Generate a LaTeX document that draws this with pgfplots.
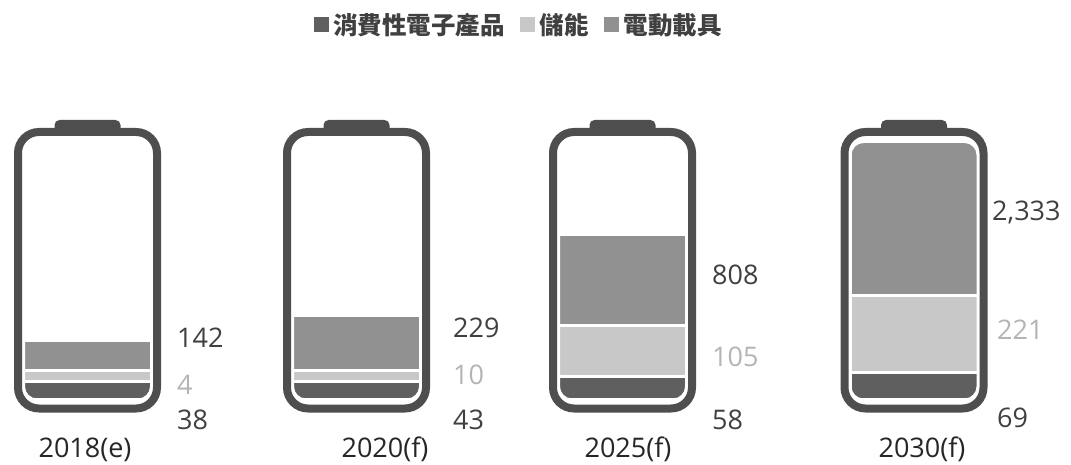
\documentclass[border=0pt]{standalone}
\usepackage{fontspec}
\setmainfont{Open Sans}
\newfontfamily\cjk{Noto Sans CJK TC}
\usepackage{pgfplots}
\pgfplotsset{compat=1.18}

\definecolor{cdark}{RGB}{95,95,95}
\definecolor{clight}{RGB}{200,200,200}
\definecolor{cmed}{RGB}{145,145,145}
\definecolor{cshell}{RGB}{78,78,78}
\definecolor{ctext}{RGB}{64,64,64}
\definecolor{cltext}{RGB}{180,180,180}

\pgfplotsset{
  % square swatch, with blank room before it (between entries) and after it (before the text)
  sqlegend/.style={legend image code/.code={%
    \path (-12pt,0pt) (16pt,0pt);
    \fill[##1, draw=none] (0pt,-7.5pt) rectangle (15pt,7.5pt);}},
  frame/.style={scale only axis, width=1071pt, height=464pt,
    xmin=0, xmax=1071, ymin=-65, ymax=399, hide axis, clip=false},
}

% battery shell (1 axis unit = 1pt): mask left/right, inner left/right, shell left/right, cap left/right
\newcommand{\battery}[8]{%
  \fill[white, even odd rule, rounded corners=12pt]
    (axis cs:#1,262) rectangle (axis cs:#2,-7)
    (axis cs:#3,256) rectangle (axis cs:#4,0.5);
  \draw[cshell, line width=8pt, rounded corners=21pt]
    (axis cs:#5,-9.5) rectangle (axis cs:#6,267);
  \fill[cshell, rounded corners=5pt] (axis cs:#7,265) rectangle (axis cs:#8,279);
}

\begin{document}
\begin{tikzpicture}[font=\fontsize{27}{32}\selectfont]
\begin{axis}[
    frame,
    ybar stacked,
    bar width=128,
    sqlegend,
    legend columns=3,
    legend style={at={(axis cs:512,374)}, anchor=center, draw=none,
        text=ctext, font=\cjk\bfseries\fontsize{24.5}{28}\selectfont},
  ]
  % bar heights as drawn in the picture (the figure is not to scale)
  \addplot[fill=cdark, draw=white, line width=3pt]
    coordinates {(87.5,17.5) (356.5,17.5) (622.5,22) (914,26.5)};
  \addplot[fill=clight, draw=white, line width=3pt]
    coordinates {(87.5,10.5) (356.5,10.5) (622.5,51) (914,77)};
  \addplot[fill=cmed, draw=white, line width=3pt]
    coordinates {(87.5,30.5) (356.5,55.5) (622.5,91.5) (914,154)};
  \legend{消費性電子產品, 儲能, 電動載具}
\end{axis}

% shells and labels on top of the bars
\begin{axis}[frame]
  \battery{19.5}{155.5}{25}{150}{18}{157}{54.5}{120.5}
  \battery{288.5}{424.5}{294}{419}{287}{426}{323.5}{389.5}
  \battery{554.5}{690.5}{560}{685}{553}{692}{589.5}{655.5}
  \battery{846}{982}{851.5}{976.5}{844.5}{983.5}{881}{947}

  % values
  \node[anchor=west, inner sep=0pt, text=ctext] at (axis cs:177,61) {142};
  \node[anchor=west, inner sep=0pt, text=cltext] at (axis cs:177,14) {4};
  \node[anchor=west, inner sep=0pt, text=ctext] at (axis cs:177,-21) {38};
  \node[anchor=west, inner sep=0pt, text=ctext] at (axis cs:453,71) {229};
  \node[anchor=west, inner sep=0pt, text=cltext] at (axis cs:453,24) {10};
  \node[anchor=west, inner sep=0pt, text=ctext] at (axis cs:453,-21) {43};
  \node[anchor=west, inner sep=0pt, text=ctext] at (axis cs:712,124) {808};
  \node[anchor=west, inner sep=0pt, text=cltext] at (axis cs:712,42) {105};
  \node[anchor=west, inner sep=0pt, text=ctext] at (axis cs:712,-21) {58};
  \node[anchor=west, inner sep=0pt, text=ctext] at (axis cs:992,187) {2,333};
  \node[anchor=west, inner sep=0pt, text=cltext] at (axis cs:997,69) {221};
  \node[anchor=west, inner sep=0pt, text=ctext] at (axis cs:997,-19) {69};
  % categories
  \node[anchor=base, inner sep=0pt, text=black!85] at (axis cs:85,-58) {2018(e)};
  \node[anchor=base, inner sep=0pt, text=black!85] at (axis cs:385,-58) {2020(f)};
  \node[anchor=base, inner sep=0pt, text=black!85] at (axis cs:628,-58) {2025(f)};
  \node[anchor=base, inner sep=0pt, text=black!85] at (axis cs:922,-58) {2030(f)};
\end{axis}
\pgfresetboundingbox
\useasboundingbox (current axis.south west) rectangle (current axis.north east);
\end{tikzpicture}
\end{document}
